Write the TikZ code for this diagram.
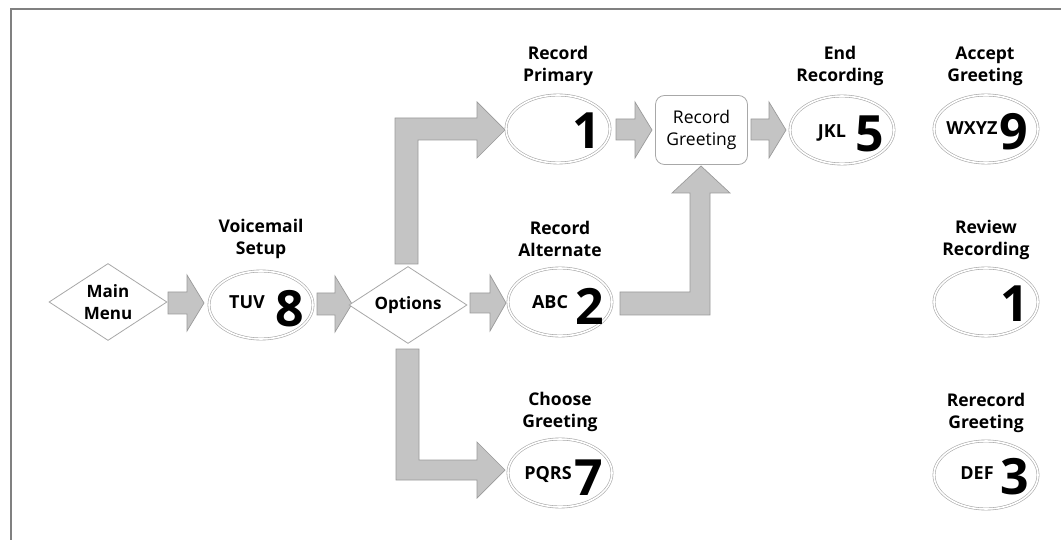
\documentclass[tikz,border=0pt]{standalone}
\usepackage{fontspec}
\setmainfont{Open Sans}
\usetikzlibrary{shapes.geometric}
\definecolor{arrfill}{HTML}{C4C4C4}
\definecolor{arrline}{HTML}{9A9A9A}
\definecolor{shapeline}{HTML}{A8A8A8}
\definecolor{framecol}{HTML}{808080}
\tikzset{
  blockarrow/.style={fill=arrfill, draw=arrline, line width=0.7pt},
  keyoval/.style={ellipse, draw=shapeline, line width=0.6pt, double=white, double distance=1.6pt, minimum width=104pt, minimum height=68pt, inner sep=0pt},
  decision/.style={diamond, draw=shapeline, line width=0.8pt, fill=white, minimum width=118pt, minimum height=77pt, inner sep=0pt, aspect=1.55, align=center, font=\bfseries\fontsize{17}{22}\selectfont},
  statebox/.style={rectangle, rounded corners=9pt, draw=shapeline, line width=0.8pt, minimum width=92pt, minimum height=69pt, align=center, font=\fontsize{17.5}{22}\selectfont},
  lbl/.style={align=center, font=\bfseries\fontsize{17.5}{22}\selectfont, inner sep=0pt},
  letters/.style={font=\bfseries\fontsize{18}{20}\selectfont, inner sep=0pt},
  digit/.style={font=\bfseries\fontsize{50}{50}\selectfont, inner sep=0pt},
}
\begin{document}
\begin{tikzpicture}[x=1pt,y=-1pt]
\useasboundingbox (0,0) rectangle (1061,540);
% frame
\draw[framecol, line width=2pt] (11,540) -- (11,9) -- (1061,9);

% block arrows
\draw[blockarrow] (168,292) -- (187,292) -- (187,275) -- (204,303) -- (187,331) -- (187,314) -- (168,314) -- cycle;
\draw[blockarrow] (317,293) -- (335,293) -- (335,276) -- (352,304) -- (335,332) -- (335,315) -- (317,315) -- cycle;
\draw[blockarrow] (470,293) -- (490,293) -- (490,275) -- (506,303) -- (490,331) -- (490,313) -- (470,313) -- cycle;
\draw[blockarrow] (616,119) -- (635,119) -- (635,102) -- (652,130) -- (635,158) -- (635,140) -- (616,140) -- cycle;
\draw[blockarrow] (751,119) -- (769,119) -- (769,102) -- (786,130) -- (769,158) -- (769,140) -- (751,140) -- cycle;
% L arrows
\draw[blockarrow] (395,264) -- (395,118) -- (477,118) -- (477,102) -- (505,130) -- (477,158) -- (477,140) -- (418,140) -- (418,264) -- cycle;
\draw[blockarrow] (396,349) -- (396,480) -- (477,480) -- (477,498) -- (505,470) -- (477,442) -- (477,460) -- (419,460) -- (419,349) -- cycle;
\draw[blockarrow] (620,315) -- (710,315) -- (710,193) -- (730,193) -- (701,166) -- (672,193) -- (690,193) -- (690,292) -- (620,292) -- cycle;

% diamonds
\node[decision] (main) at (108,302) {Main\\Menu};
\node[decision] (opts) at (408,305) {Options};

% record greeting box
\node[statebox] (recg) at (701.5,130) {Record\\Greeting};

% ovals
\node[keyoval] (vms) at (261,305) {};
\node[keyoval] (prim) at (558,129) {};
\node[keyoval] (alt) at (560,302) {};
\node[keyoval] (choose) at (560,473) {};
\node[keyoval] (endrec) at (842,130) {};
\node[keyoval] (accept) at (986,129) {};
\node[keyoval] (review) at (986,302) {};
\node[keyoval] (rerec) at (986,475) {};

% labels above ovals
\node[lbl] (lvms) at (261,239) {Voicemail\\Setup};
\node[lbl] (lprim) at (558,66) {Record\\Primary};
\node[lbl] (lalt) at (560,239) {Record\\Alternate};
\node[lbl] (lchoose) at (560,412) {Choose\\Greeting};
\node[lbl] (lend) at (840,66) {End\\Recording};
\node[lbl] (lacc) at (985,66) {Accept\\Greeting};
\node[lbl] (lrev) at (986,240) {Review\\Recording};
\node[lbl] (lrer) at (986,413) {Rerecord\\Greeting};

% key contents
\node[letters] (tvms) at (247,302) {TUV};
\node[digit] (dvms) at (290,309) {8};
\node[digit] (dprim) at (587,131) {1};
\node[letters] (talt) at (550,302) {ABC};
\node[digit] (dalt) at (590,306) {2};
\node[letters] (tchoose) at (548,475) {PQRS};
\node[digit] (dchoose) at (589,478) {7};
\node[letters] (tend) at (832,133) {JKL};
\node[digit] (dend) at (870,134) {5};
\node[letters] (tacc) at (972,128) {WXYZ};
\node[digit] (dacc) at (1014,132) {9};
\node[digit] (drev) at (1015,304) {1};
\node[letters] (trer) at (977,473) {DEF};
\node[digit] (drer) at (1015,477) {3};
\end{tikzpicture}
\end{document}
